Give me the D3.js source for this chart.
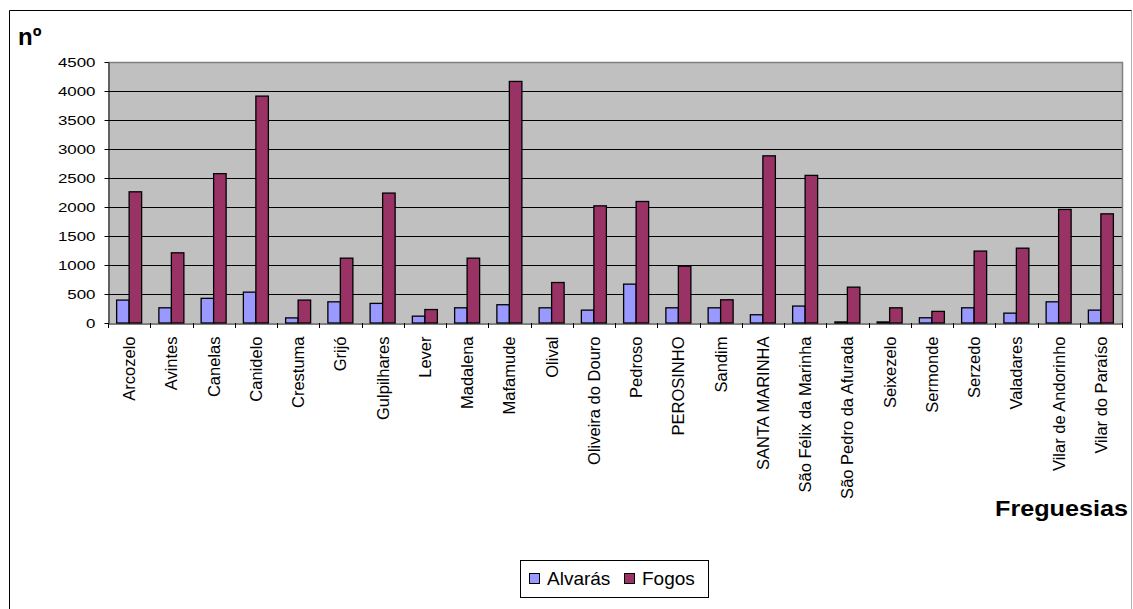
<!DOCTYPE html>
<html>
<head>
<meta charset="utf-8">
<script src="https://cdn.jsdelivr.net/npm/d3@7"></script>
<style>
  body { margin: 0; background: #fff; }
  text { font-family: "Liberation Sans", Arial, sans-serif; fill: #000; }
</style>
</head>
<body>
<svg width="1133" height="609"></svg>
<script>
const categories = ["Arcozelo", "Avintes", "Canelas", "Canidelo", "Crestuma", "Grijó",
  "Gulpilhares", "Lever", "Madalena", "Mafamude", "Olival", "Oliveira do Douro",
  "Pedroso", "PEROSINHO", "Sandim", "SANTA MARINHA", "São Félix da Marinha",
  "São Pedro da Afurada", "Seixezelo", "Sermonde", "Serzedo", "Valadares",
  "Vilar de Andorinho", "Vilar do Paraíso"];
const alvaras = [395, 262, 425, 532, 88, 365, 338, 118, 262, 315, 262, 222,
  670, 262, 262, 142, 292, 18, 18, 90, 262, 170, 365, 222];
const fogos = [2262, 1210, 2575, 3912, 395, 1118, 2240, 232, 1118, 4165, 698, 2020,
  2095, 980, 400, 2882, 2545, 618, 262, 200, 1240, 1290, 1958, 1882];
const seriesNames = ["Alvarás", "Fogos"];
const seriesColors = ["#9999FF", "#993366"];
const yTicks = [0, 500, 1000, 1500, 2000, 2500, 3000, 3500, 4000, 4500];

const svg = d3.select("svg");
const plotLeft = 108, plotRight = 1122, plotTop = 62, plotBottom = 323;

// outer frame
svg.append("line").attr("x1", 9.5).attr("y1", 10.5).attr("x2", 1132).attr("y2", 10.5)
  .attr("stroke", "#000");
svg.append("line").attr("x1", 9.5).attr("y1", 10.5).attr("x2", 9.5).attr("y2", 609)
  .attr("stroke", "#000");
svg.append("line").attr("x1", 1131.5).attr("y1", 10.5).attr("x2", 1131.5).attr("y2", 609)
  .attr("stroke", "#b0b0b0");

const x0 = d3.scaleBand().domain(categories).range([plotLeft, plotRight]).padding(0);
const x1 = d3.scaleBand().domain(seriesNames).range([0, x0.bandwidth()])
  .paddingInner(0).paddingOuter(0.69);
const y = d3.scaleLinear().domain([0, 4500]).range([plotBottom, plotTop]);

// plot background
svg.append("rect")
  .attr("x", plotLeft).attr("y", plotTop)
  .attr("width", plotRight - plotLeft).attr("height", plotBottom - plotTop)
  .attr("fill", "#C0C0C0");

// gridlines
svg.append("g").selectAll("line")
  .data(yTicks.filter(d => d > 0 && d < 4500))
  .join("line")
  .attr("x1", plotLeft).attr("x2", plotRight)
  .attr("y1", d => Math.round(y(d)) + 0.5).attr("y2", d => Math.round(y(d)) + 0.5)
  .attr("stroke", "#000");

// top & right border of plot area
svg.append("path")
  .attr("d", `M${plotLeft},${plotTop + 0.5}H${plotRight + 0.5}V${plotBottom}`)
  .attr("fill", "none").attr("stroke", "#808080").attr("stroke-width", 1.5);

// bars
const groups = svg.append("g").selectAll("g")
  .data(categories)
  .join("g")
  .attr("transform", d => `translate(${x0(d)},0)`);

groups.selectAll("rect")
  .data((d, i) => [alvaras[i], fogos[i]].map((v, j) => ({ key: seriesNames[j], value: v, c: seriesColors[j] })))
  .join("rect")
  .attr("x", d => x1(d.key))
  .attr("y", d => y(d.value))
  .attr("width", x1.bandwidth())
  .attr("height", d => y(0) - y(d.value))
  .attr("fill", d => d.c)
  .attr("stroke", "#000")
  .attr("stroke-width", 1.3);

// y axis
const yAxis = svg.append("g")
  .attr("transform", `translate(${plotLeft + 0.5},0)`)
  .call(d3.axisLeft(y).tickValues(yTicks).tickSize(4).tickSizeOuter(0).tickPadding(12));
yAxis.select(".domain").attr("stroke", "#000");
yAxis.selectAll("text").remove();
yAxis.selectAll(".tick").append("g")
  .attr("transform", "translate(-13,0) scale(1.3,1)")
  .append("text")
  .attr("text-anchor", "end")
  .attr("dy", "0.35em")
  .style("font-size", "13px")
  .text(d => d);

// x axis
const xAxis = svg.append("g")
  .attr("transform", `translate(0,${plotBottom + 0.5})`)
  .call(d3.axisBottom(x0).tickSize(0).tickSizeOuter(0));
xAxis.select(".domain").attr("stroke", "#000");
xAxis.selectAll("text")
  .style("font-size", "16.5px")
  .attr("text-anchor", "end")
  .attr("transform", "rotate(-90)")
  .attr("x", -13)
  .attr("y", 0)
  .attr("dy", "0.36em");

// category boundary ticks
svg.append("g").selectAll("line")
  .data(categories.concat([null]))
  .join("line")
  .attr("x1", d => Math.round(d === null ? plotRight : x0(d)) + 0.5)
  .attr("x2", d => Math.round(d === null ? plotRight : x0(d)) + 0.5)
  .attr("y1", plotBottom).attr("y2", plotBottom + 5)
  .attr("stroke", "#000");

// axis titles
svg.append("text")
  .attr("x", 18).attr("y", 45)
  .style("font-size", "24px").style("font-weight", "bold")
  .text("nº");
svg.append("text")
  .attr("x", 1128).attr("y", 516)
  .attr("text-anchor", "end")
  .style("font-size", "22px").style("font-weight", "bold")
  .attr("textLength", 133)
  .attr("lengthAdjust", "spacingAndGlyphs")
  .text("Freguesias");

// legend
const legend = svg.append("g");
legend.append("rect")
  .attr("x", 520.5).attr("y", 560.5).attr("width", 188).attr("height", 37)
  .attr("fill", "#fff").attr("stroke", "#000");
const legendX = [529, 624];
seriesNames.forEach((name, i) => {
  legend.append("rect")
    .attr("x", legendX[i] + 0.5).attr("y", 573.5).attr("width", 10).attr("height", 10)
    .attr("fill", seriesColors[i]).attr("stroke", "#000");
  legend.append("text")
    .attr("x", legendX[i] + 18).attr("y", 585)
    .style("font-size", "19px")
    .text(name);
});
</script>
</body>
</html>
